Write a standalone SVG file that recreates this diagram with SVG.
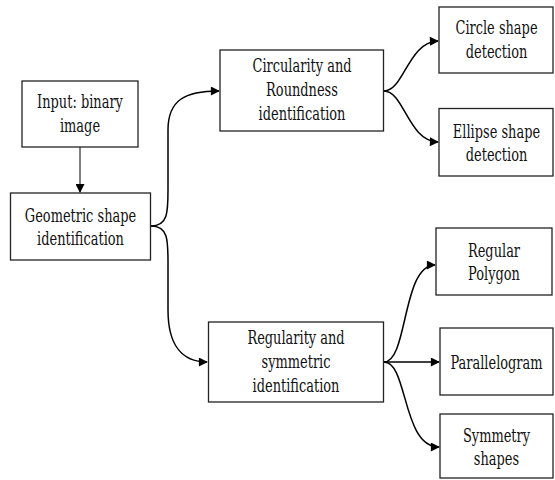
<svg xmlns="http://www.w3.org/2000/svg" width="555" height="480" viewBox="0 0 555 480">
<defs>
<style>
rect{fill:#fff;stroke:#222;stroke-width:1.3}
text{font-family:"DejaVu Serif",serif;font-size:18px;fill:#111;text-anchor:middle}
.c{fill:none;stroke:#000;stroke-width:1.5}
</style>
<marker id="ah" viewBox="0 0 10 10" refX="9" refY="5" markerWidth="10" markerHeight="9" markerUnits="userSpaceOnUse" orient="auto"><path d="M0,0 L10,5 L0,10 Z" fill="#000"/></marker>
</defs>
<g id="connectors">
<path class="c" d="M80,147 L80,192" marker-end="url(#ah)" style="stroke-width:1"/>
<path class="c" d="M151,226 C168,226 168,212 168,190 L168,130 C168,100 185,91 219,91" marker-end="url(#ah)"/>
<path class="c" d="M151,226 C168,226 168,240 168,262 L168,310 C168,345 182,362 207,362" marker-end="url(#ah)"/>
<path class="c" d="M384,91 C404,91 408,42 438,41" marker-end="url(#ah)"/>
<path class="c" d="M384,91 C404,91 408,141 438,142" marker-end="url(#ah)"/>
<path class="c" d="M384,362 C408,362 402,265 435,265" marker-end="url(#ah)"/>
<path class="c" d="M384,362 L439,362" marker-end="url(#ah)"/>
<path class="c" d="M384,362 C408,362 402,447 439,447" marker-end="url(#ah)"/>
</g>
<g id="input"><rect x="22" y="81" width="116" height="66"/><g transform="translate(80 0) scale(0.72 1)"><text x="0" y="108.5">Input: binary</text><text x="0" y="132.5">image</text></g></g>
<g id="geometric"><rect x="10.5" y="193" width="140" height="67"/><g transform="translate(80.5 0) scale(0.72 1)"><text x="0" y="222.5">Geometric shape</text><text x="0" y="245.5">identification</text></g></g>
<g id="circularity"><rect x="220" y="50" width="163.5" height="81"/><g transform="translate(302 0) scale(0.72 1)"><text x="0" y="72.5">Circularity and</text><text x="0" y="96.5">Roundness</text><text x="0" y="120.5">identification</text></g></g>
<g id="regularity"><rect x="208.5" y="322" width="175" height="80"/><g transform="translate(296 0) scale(0.72 1)"><text x="0" y="344.5">Regularity and</text><text x="0" y="368.5">symmetric</text><text x="0" y="392.5">identification</text></g></g>
<g id="circle"><rect x="439" y="7" width="114" height="66"/><g transform="translate(496.5 0) scale(0.72 1)"><text x="0" y="34.5">Circle shape</text><text x="0" y="58">detection</text></g></g>
<g id="ellipse"><rect x="439" y="108.5" width="114" height="67.5"/><g transform="translate(496.5 0) scale(0.72 1)"><text x="0" y="138">Ellipse shape</text><text x="0" y="161.5">detection</text></g></g>
<g id="polygon"><rect x="436" y="228" width="116" height="67"/><g transform="translate(494 0) scale(0.72 1)"><text x="0" y="257">Regular</text><text x="0" y="280.5">Polygon</text></g></g>
<g id="parallelogram"><rect x="440" y="328" width="113" height="67"/><g transform="translate(496.5 0) scale(0.72 1)"><text x="0" y="369.5">Parallelogram</text></g></g>
<g id="symmetry"><rect x="440" y="414" width="113" height="64"/><g transform="translate(496.5 0) scale(0.72 1)"><text x="0" y="442">Symmetry</text><text x="0" y="465.5">shapes</text></g></g>
</svg>
